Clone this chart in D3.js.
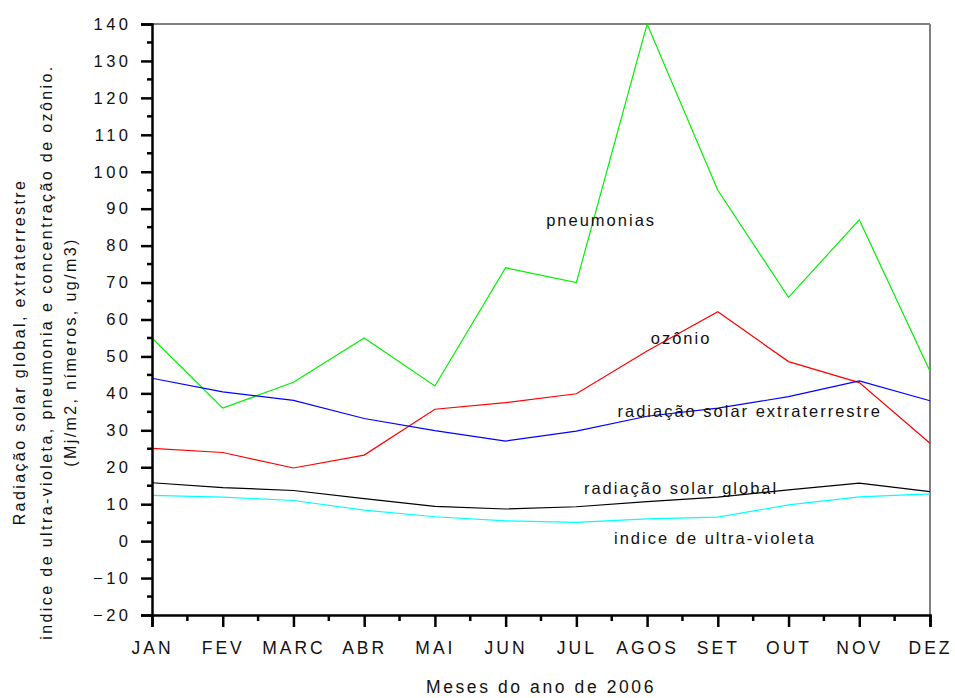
<!DOCTYPE html>
<html>
<head>
<meta charset="utf-8">
<script src="https://cdn.jsdelivr.net/npm/d3@7"></script>
<style>
  html, body { margin: 0; padding: 0; background: #fff; }
  svg { display: block; font-family: "Liberation Sans", Arial, sans-serif; }
</style>
</head>
<body>
<svg id="chart" width="955" height="698"></svg>
<script>
// Months of 2006
const months = ["JAN", "FEV", "MARC", "ABR", "MAI", "JUN", "JUL", "AGOS", "SET", "OUT", "NOV", "DEZ"];

// Monthly series
const pneumonias = [55, 36, 43, 55, 42, 74, 70, 140, 95, 66, 87, 46];
const ozonio = [25.1, 24, 19.8, 23.3, 35.7, 37.5, 39.9, 51.5, 62.1, 48.6, 42.9, 26.5];
const radExtraterrestre = [44.1, 40.4, 38.1, 33.2, 29.9, 27.1, 29.8, 33.8, 36, 39.1, 43.4, 38];
const radGlobal = [15.8, 14.5, 13.7, 11.5, 9.4, 8.7, 9.3, 10.7, 11.9, 13.9, 15.7, 13.4];
const uvIndex = [12.4, 11.9, 11, 8.4, 6.6, 5.5, 5.1, 6, 6.5, 9.8, 12, 12.8];

// Y axis ticks
const yTicks = [-20, -10, 0, 10, 20, 30, 40, 50, 60, 70, 80, 90, 100, 110, 120, 130, 140];
const yMinorTicks = d3.range(-15, 140, 10);

const series = [
  { name: "pneumonias", values: pneumonias, color: "#00f000" },
  { name: "ozônio", values: ozonio, color: "#ff0000" },
  { name: "radiação solar extraterrestre", values: radExtraterrestre, color: "#0000ff" },
  { name: "radiação solar global", values: radGlobal, color: "#000000" },
  { name: "indice de ultra-violeta", values: uvIndex, color: "#00ffff" }
];

// Series labels, placed at a month position and a value
const seriesLabels = [
  { text: "pneumonias", month: 6.35, value: 85.3 },
  { text: "ozônio", month: 7.48, value: 53.4 },
  { text: "radiação solar extraterrestre", month: 8.45, value: 33.6 },
  { text: "radiação solar global", month: 7.48, value: 12.8 },
  { text: "indice de ultra-violeta", month: 7.96, value: -0.75 }
];

const svg = d3.select("#chart");
const plotLeft = 152, plotRight = 930, plotTop = 24, plotBottom = 615;

const x = d3.scaleLinear().domain([0, months.length - 1]).range([plotLeft, plotRight]);
const y = d3.scaleLinear().domain([-20, 140]).range([plotBottom, plotTop]);

// Frame: thin top, grey right
svg.append("line").attr("x1", plotLeft).attr("x2", plotRight).attr("y1", plotTop).attr("y2", plotTop)
  .attr("stroke", "#000").attr("stroke-width", 1.2);
svg.append("line").attr("x1", plotRight).attr("x2", plotRight).attr("y1", plotTop).attr("y2", plotBottom)
  .attr("stroke", "#808080").attr("stroke-width", 2);

// Series lines
const line = d3.line().x((d, i) => x(i)).y(d => y(d));
series.forEach(s => {
  svg.append("path")
    .datum(s.values)
    .attr("d", line)
    .attr("fill", "none")
    .attr("stroke", s.color)
    .attr("stroke-width", 1.2);
});

// Y axis
const yAxis = d3.axisLeft(y).tickValues(yTicks).tickSize(11).tickPadding(13);
const yg = svg.append("g").attr("transform", `translate(${plotLeft},0)`).call(yAxis);
yg.select(".domain").attr("stroke", "#000").attr("stroke-width", 2.5);
yg.selectAll(".tick line").attr("stroke", "#000").attr("stroke-width", 2.5);
yg.selectAll(".tick text")
  .attr("fill", "#111")
  .style("font-size", "16.5px")
  .style("letter-spacing", "3.5px")
  .attr("dx", "3.5px");
yg.selectAll(".ymin").data(yMinorTicks).enter().append("line")
  .attr("x1", -5).attr("x2", 0)
  .attr("y1", d => y(d)).attr("y2", d => y(d))
  .attr("stroke", "#000").attr("stroke-width", 2.5);

// X axis
const xAxis = d3.axisBottom(x).tickValues(d3.range(months.length))
  .tickFormat(i => months[i]).tickSize(12).tickPadding(15);
const xg = svg.append("g").attr("transform", `translate(0,${plotBottom})`).call(xAxis);
xg.select(".domain").attr("stroke", "#000").attr("stroke-width", 2.5);
xg.selectAll(".tick line").attr("stroke", "#000").attr("stroke-width", 2.5);
xg.selectAll(".tick text")
  .attr("fill", "#111")
  .style("font-size", "17.5px")
  .style("letter-spacing", "3px")
  .attr("dx", "0px");
xg.selectAll(".xmin").data(d3.range(0.5, months.length - 1, 1)).enter().append("line")
  .attr("x1", d => x(d)).attr("x2", d => x(d))
  .attr("y1", 0).attr("y2", 6)
  .attr("stroke", "#000").attr("stroke-width", 2.5);

// Series labels
seriesLabels.forEach(l => {
  svg.append("text")
    .attr("x", x(l.month)).attr("y", y(l.value))
    .attr("text-anchor", "middle")
    .attr("fill", "#111")
    .style("font-size", "16.5px")
    .style("letter-spacing", "2px")
    .text(l.text);
});

// X title
svg.append("text")
  .attr("x", 541).attr("y", 693)
  .attr("text-anchor", "middle")
  .attr("fill", "#111")
  .style("font-size", "17.5px")
  .style("letter-spacing", "2.6px")
  .text("Meses do ano de 2006");

// Y title, three rotated lines
const yTitle = [
  { text: "Radiação solar global, extraterrestre", x: 25 },
  { text: "indice de ultra-violeta, pneumonia e concentração de ozônio.", x: 52 },
  { text: "(Mj/m2, nímeros, ug/m3)", x: 76 }
];
yTitle.forEach(t => {
  svg.append("text")
    .attr("transform", `translate(${t.x},352) rotate(-90)`)
    .attr("text-anchor", "middle")
    .attr("fill", "#111")
    .style("font-size", "16px")
    .style("letter-spacing", "2.4px")
    .text(t.text);
});
</script>
</body>
</html>
